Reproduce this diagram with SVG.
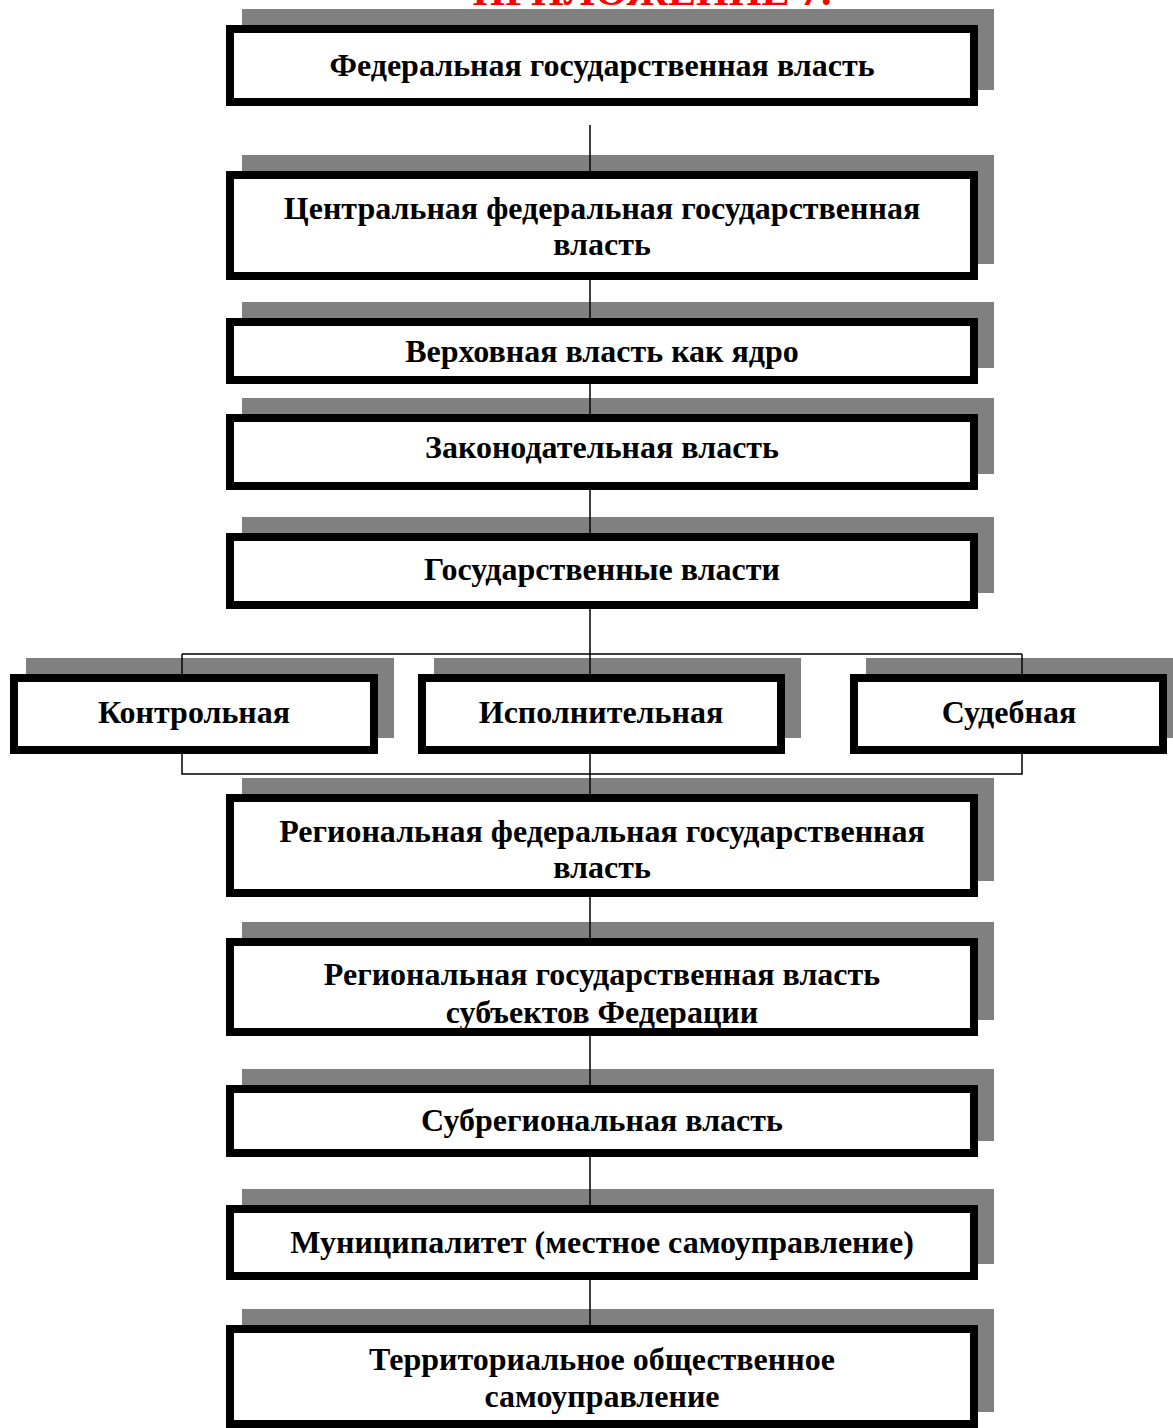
<svg xmlns="http://www.w3.org/2000/svg" width="1173" height="1428" viewBox="0 0 1173 1428">
<style>
.sh{fill:#808080}
.bx{fill:#fff;stroke:#000;stroke-width:8}
.t{font-family:"Liberation Serif","Times New Roman",serif;font-weight:bold;font-size:32px;fill:#000;text-anchor:middle}
.ttl{font-family:"Liberation Serif","Times New Roman",serif;font-weight:bold;font-size:42px;fill:#ff0000;text-anchor:middle}
.c{stroke:#000;stroke-width:1.5;fill:none}
</style>
<rect width="1173" height="1428" fill="#fff"/>
<text class="ttl" x="652" y="5">ПРИЛОЖЕНИЕ 7.</text>

<g id="n1"><rect class="sh" x="242" y="9" width="752" height="81"/><rect class="bx" x="230" y="29" width="744" height="73"/><text class="t" x="602" y="76">Федеральная государственная власть</text></g>
<g id="n2"><rect class="sh" x="242" y="155" width="752" height="109"/><rect class="bx" x="230" y="175" width="744" height="101"/><text class="t" x="602" y="219">Центральная федеральная государственная</text><text class="t" x="602" y="255">власть</text></g>
<g id="n3"><rect class="sh" x="242" y="302" width="752" height="66"/><rect class="bx" x="230" y="322" width="744" height="58"/><text class="t" x="602" y="362">Верховная власть как ядро</text></g>
<g id="n4"><rect class="sh" x="242" y="398" width="752" height="76"/><rect class="bx" x="230" y="418" width="744" height="68"/><text class="t" x="602" y="458">Законодательная власть</text></g>
<g id="n5"><rect class="sh" x="242" y="517" width="752" height="76"/><rect class="bx" x="230" y="537" width="744" height="68"/><text class="t" x="602" y="580">Государственные власти</text></g>
<g id="n6"><rect class="sh" x="26" y="658" width="368" height="80"/><rect class="bx" x="14" y="678" width="360" height="72"/><text class="t" x="194" y="723">Контрольная</text></g>
<g id="n7"><rect class="sh" x="434" y="658" width="367" height="80"/><rect class="bx" x="422" y="678" width="359" height="72"/><text class="t" x="601" y="723">Исполнительная</text></g>
<g id="n8"><rect class="sh" x="866" y="658" width="317" height="80"/><rect class="bx" x="854" y="678" width="309" height="72"/><text class="t" x="1009" y="723">Судебная</text></g>
<g id="n9"><rect class="sh" x="242" y="778" width="752" height="103"/><rect class="bx" x="230" y="798" width="744" height="95"/><text class="t" x="602" y="842">Региональная федеральная государственная</text><text class="t" x="602" y="878">власть</text></g>
<g id="n10"><rect class="sh" x="242" y="922" width="752" height="98"/><rect class="bx" x="230" y="942" width="744" height="90"/><text class="t" x="602" y="985">Региональная государственная власть</text><text class="t" x="602" y="1023">субъектов Федерации</text></g>
<g id="n11"><rect class="sh" x="242" y="1069" width="752" height="72"/><rect class="bx" x="230" y="1089" width="744" height="64"/><text class="t" x="602" y="1131">Субрегиональная власть</text></g>
<g id="n12"><rect class="sh" x="242" y="1189" width="752" height="75"/><rect class="bx" x="230" y="1209" width="744" height="67"/><text class="t" x="602" y="1253">Муниципалитет (местное самоуправление)</text></g>
<g id="n13"><rect class="sh" x="242" y="1309" width="752" height="103"/><rect class="bx" x="230" y="1329" width="744" height="95"/><text class="t" x="602" y="1370">Территориальное общественное</text><text class="t" x="602" y="1407">самоуправление</text></g>

<g id="connectors">
<path class="c" d="M590 125V171 M590 280V318 M590 384V414 M590 490V533 M590 609V674 M182 654H1022 M182 654V674 M1022 654V674 M182 754V774H1022V754 M590 754V794 M590 897V938 M590 1036V1085 M590 1157V1205 M590 1280V1325"/>
</g>
</svg>
